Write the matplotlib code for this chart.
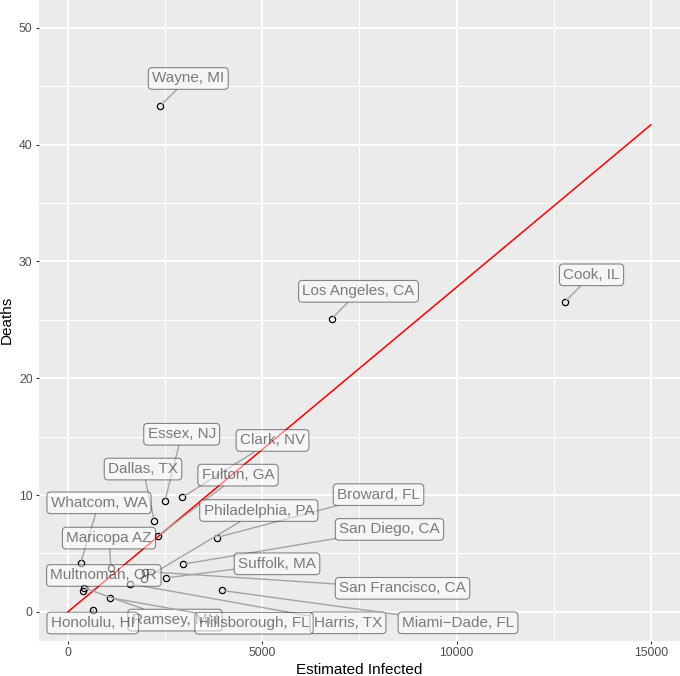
import matplotlib
matplotlib.use('Agg')
import matplotlib.pyplot as plt
from matplotlib.ticker import MultipleLocator

plt.rcParams['font.family'] = ['Liberation Sans', 'DejaVu Sans']

# 카운티별 데이터
counties = ['Wayne, MI', 'Cook, IL', 'Los Angeles, CA', 'Essex, NJ', 'Clark, NV',
            'Dallas, TX', 'Fulton, GA', 'Broward, FL', 'Whatcom, WA', 'Maricopa AZ',
            'San Francisco, CA', 'Philadelphia, PA', 'San Diego, CA', 'Suffolk, MA',
            'Harris, TX', 'Ramsey, MN', 'Multnomah, OR', 'Hillsborough, FL',
            'Honolulu, HI', 'Miami\u2212Dade, FL']
infected = [2365, 12776, 6787, 2494, 2939,
            2220, 2323, 3830, 325, 1105,
            1980, 1950, 2965, 2520,
            1585, 420, 377, 1088,
            650, 3950]
deaths = [43.3, 26.5, 25.1, 9.5, 9.8,
          7.8, 6.5, 6.36, 4.17, 3.74,
          3.45, 2.8, 4.08, 2.9,
          2.4, 2.03, 1.74, 1.2,
          0.17, 1.83]

# 라벨 위치 (ggrepel 결과를 흉내냄)
label_x = [3095, 13470, 7475, 2925, 5262,
           1930, 4374, 7989, 798, 1055,
           8607, 4909, 8272, 5378,
           7204, 2753, 921, 4786,
           636, 10035]
label_y = [45.66, 28.85, 27.44, 15.2, 14.67,
           12.22, 11.70, 10.03, 9.33, 6.31,
           2.01, 8.67, 7.05, 4.11,
           -0.94, -0.71, 3.11, -0.98,
           -0.96, -0.94]

# 적합선
fit_x = [0, 15000]
fit_y = [0, 41.7]

fig = plt.figure(figsize=(6.8, 6.76), dpi=100)
ax = fig.add_axes([38.85 / 680, 35 / 676, 641.3 / 680, 642.4 / 676])
ax.set_facecolor('#EBEBEB')
for s in ax.spines.values():
    s.set_visible(False)

ax.set_xlim(-750, 15750)
ax.set_ylim(-2.5, 52.5)
ax.xaxis.set_major_locator(MultipleLocator(5000))
ax.xaxis.set_minor_locator(MultipleLocator(2500))
ax.yaxis.set_major_locator(MultipleLocator(10))
ax.yaxis.set_minor_locator(MultipleLocator(5))
ax.grid(which='major', color='white', lw=1.4)
ax.grid(which='minor', color='white', lw=0.7)
ax.set_axisbelow(True)
ax.tick_params(which='major', length=2.5, width=0.8, color='#333333',
               labelsize=8.8, labelcolor='#4D4D4D', pad=2)
ax.tick_params(which='minor', length=0)

ax.plot(infected, deaths, 'o', mfc='none', mec='black', ms=4.5, mew=0.9, zorder=2)
ax.plot(fit_x, fit_y, color='red', lw=1.1, zorder=2.5)

for name, x, y, lx, ly in zip(counties, infected, deaths, label_x, label_y):
    ax.annotate(name, xy=(x, y), xytext=(lx, ly), textcoords='data',
                ha='center', va='center', fontsize=11, color=(0, 0, 0, 0.5),
                bbox=dict(boxstyle='round,pad=0.25,rounding_size=0.25',
                          fc=(1, 1, 1, 0.5), ec=(0, 0, 0, 0.45), lw=0.8),
                arrowprops=dict(arrowstyle='-', color='#A3A3A3', lw=1.0,
                                shrinkA=0, shrinkB=2),
                zorder=3)

ax.set_xlabel('Estimated Infected', fontsize=11, labelpad=3)
ax.set_ylabel('Deaths', fontsize=11, labelpad=4)

fig.savefig('out.png', dpi=100)
